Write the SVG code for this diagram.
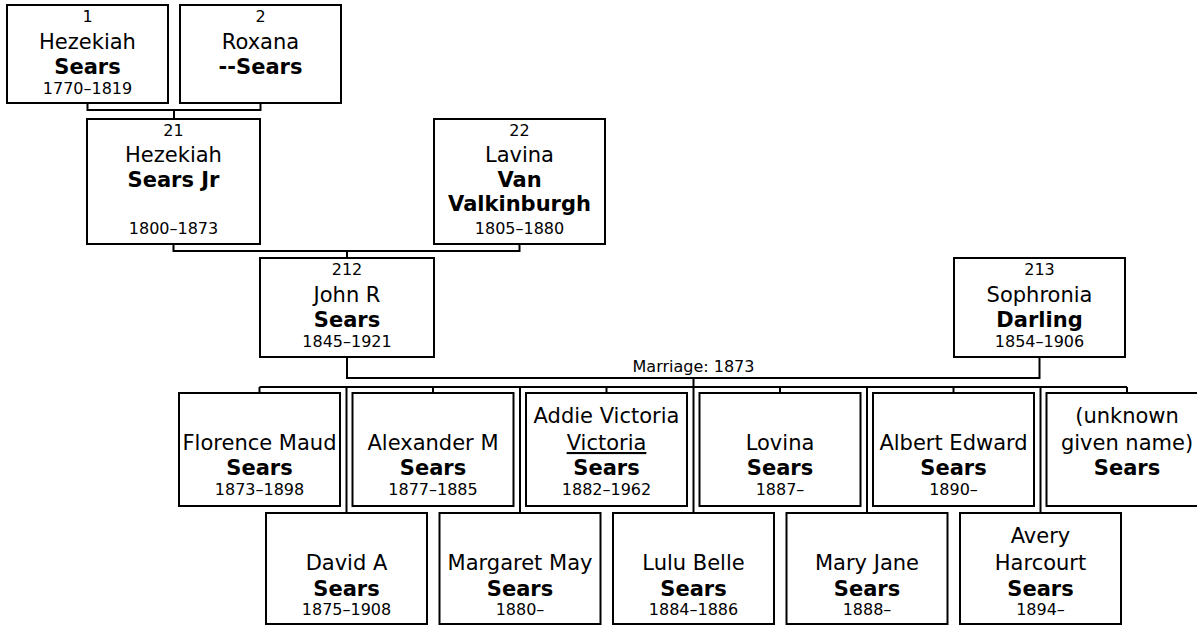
<svg xmlns="http://www.w3.org/2000/svg" width="1197" height="626" viewBox="0 0 1197 626">
<style>
.box{fill:#fff;stroke:#000;stroke-width:2}
text{font-family:"DejaVu Sans",Verdana,sans-serif;text-anchor:middle;fill:#000}
.n{font-size:16px}
.g{font-size:21px}
.s{font-size:21px;font-weight:bold}
.d{font-size:16px}
.lbl{font-size:16px}
.c{fill:none;stroke:#000;stroke-width:2}
</style>
<rect width="1197" height="626" fill="#fff"/>
<g id="connectors" class="c">
<path d="M87.5,103V110H260.5V103M174,110V119"/>
<path d="M173.5,244V251H519.5V244M347,251V258"/>
<path d="M347,357V378H1039.5V357M693.5,378V387"/>
<path d="M259.5,387H1127M259.5,387V393M433,387V393M606.5,387V393M780,387V393M953.5,387V393M1127,387V393"/>
<path d="M346.5,387V513M520,387V513M693.5,387V513M867,387V513M1040.5,387V513"/>
</g>
<text class="lbl" x="693.5" y="372">Marriage: 1873</text>
<g id="p1"><rect class="box" x="7" y="5" width="161" height="98"/>
<text class="n" x="87.5" y="22">1</text><text class="g" x="87.5" y="49">Hezekiah</text><text class="s" x="87.5" y="74">Sears</text><text class="d" x="87.5" y="94">1770–1819</text></g>
<g id="p2"><rect class="box" x="180" y="5" width="161" height="98"/>
<text class="n" x="260.5" y="22">2</text><text class="g" x="260.5" y="49">Roxana</text><text class="s" x="260.5" y="74">--Sears</text></g>
<g id="p21"><rect class="box" x="87" y="119" width="173" height="125"/>
<text class="n" x="173.5" y="136">21</text><text class="g" x="173.5" y="162">Hezekiah</text><text class="s" x="173.5" y="187">Sears Jr</text><text class="d" x="173.5" y="234">1800–1873</text></g>
<g id="p22"><rect class="box" x="434" y="119" width="171" height="125"/>
<text class="n" x="519.5" y="136">22</text><text class="g" x="519.5" y="162">Lavina</text><text class="s" x="519.5" y="187">Van</text><text class="s" x="519.5" y="211">Valkinburgh</text><text class="d" x="519.5" y="234">1805–1880</text></g>
<g id="p212"><rect class="box" x="260" y="258" width="174" height="99"/>
<text class="n" x="347" y="275">212</text><text class="g" x="347" y="302">John R</text><text class="s" x="347" y="327">Sears</text><text class="d" x="347" y="347">1845–1921</text></g>
<g id="p213"><rect class="box" x="954" y="258" width="171" height="99"/>
<text class="n" x="1039.5" y="275">213</text><text class="g" x="1039.5" y="302">Sophronia</text><text class="s" x="1039.5" y="327">Darling</text><text class="d" x="1039.5" y="347">1854–1906</text></g>
<g id="c1"><rect class="box" x="179" y="393" width="161" height="113"/>
<text class="g" x="259.5" y="450">Florence Maud</text><text class="s" x="259.5" y="475">Sears</text><text class="d" x="259.5" y="495">1873–1898</text></g>
<g id="c3"><rect class="box" x="352.5" y="393" width="161" height="113"/>
<text class="g" x="433" y="450">Alexander M</text><text class="s" x="433" y="475">Sears</text><text class="d" x="433" y="495">1877–1885</text></g>
<g id="c5"><rect class="box" x="526" y="393" width="161" height="113"/>
<text class="g" x="606.5" y="423">Addie Victoria</text><text class="g" x="606.5" y="450" text-decoration="underline">Victoria</text><text class="s" x="606.5" y="475">Sears</text><text class="d" x="606.5" y="495">1882–1962</text></g>
<g id="c7"><rect class="box" x="699.5" y="393" width="161" height="113"/>
<text class="g" x="780" y="450">Lovina</text><text class="s" x="780" y="475">Sears</text><text class="d" x="780" y="495">1887–</text></g>
<g id="c9"><rect class="box" x="873" y="393" width="161" height="113"/>
<text class="g" x="953.5" y="450">Albert Edward</text><text class="s" x="953.5" y="475">Sears</text><text class="d" x="953.5" y="495">1890–</text></g>
<g id="c11"><rect class="box" x="1046.5" y="393" width="161" height="113"/>
<text class="g" x="1127" y="423">(unknown</text><text class="g" x="1127" y="450">given name)</text><text class="s" x="1127" y="475">Sears</text></g>
<g id="c2"><rect class="box" x="266" y="513" width="161" height="111"/>
<text class="g" x="346.5" y="570">David A</text><text class="s" x="346.5" y="596">Sears</text><text class="d" x="346.5" y="615">1875–1908</text></g>
<g id="c4"><rect class="box" x="439.5" y="513" width="161" height="111"/>
<text class="g" x="520" y="570">Margaret May</text><text class="s" x="520" y="596">Sears</text><text class="d" x="520" y="615">1880–</text></g>
<g id="c6"><rect class="box" x="613" y="513" width="161" height="111"/>
<text class="g" x="693.5" y="570">Lulu Belle</text><text class="s" x="693.5" y="596">Sears</text><text class="d" x="693.5" y="615">1884–1886</text></g>
<g id="c8"><rect class="box" x="786.5" y="513" width="161" height="111"/>
<text class="g" x="867" y="570">Mary Jane</text><text class="s" x="867" y="596">Sears</text><text class="d" x="867" y="615">1888–</text></g>
<g id="c10"><rect class="box" x="960" y="513" width="161" height="111"/>
<text class="g" x="1040.5" y="543">Avery</text><text class="g" x="1040.5" y="570">Harcourt</text><text class="s" x="1040.5" y="596">Sears</text><text class="d" x="1040.5" y="615">1894–</text></g>
</svg>
